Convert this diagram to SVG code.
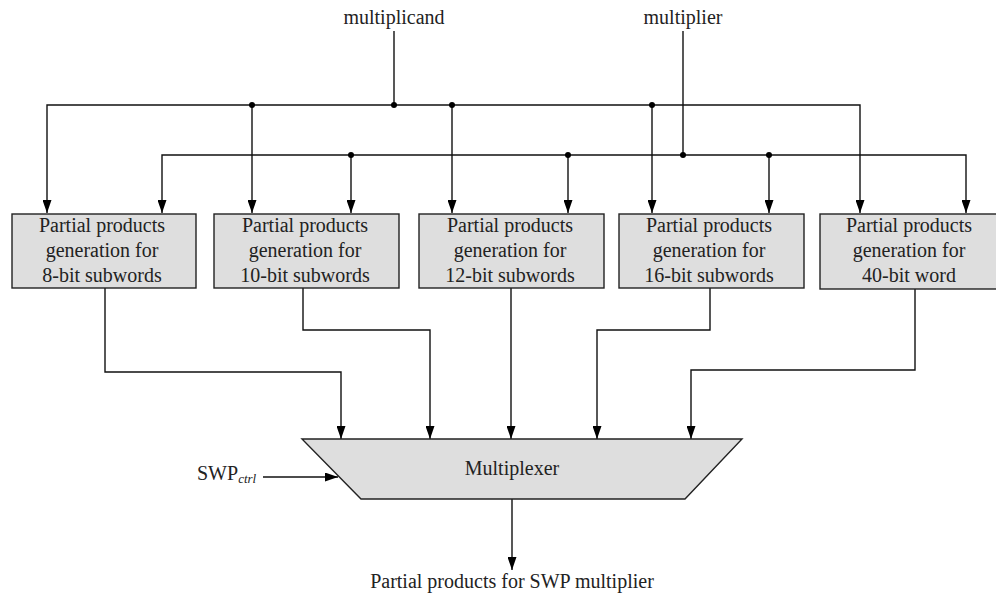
<svg xmlns="http://www.w3.org/2000/svg" width="996" height="594" viewBox="0 0 996 594">
<style>
  .t { font-family: "Liberation Serif", "Times New Roman", serif; font-size: 20px; fill: #222; }
  .c { text-anchor: middle; }
  .box { fill: #dedede; stroke: #222; stroke-width: 1.4; }
  .w { fill: none; stroke: #111; stroke-width: 1.4; }
  .a { marker-end: url(#arr); }
  .dot { fill: #000; }
</style>
<defs>
  <marker id="arr" viewBox="0 0 13 9" refX="13" refY="4.5" markerWidth="13" markerHeight="9" markerUnits="userSpaceOnUse" orient="auto">
    <path d="M0,0 L13,4.5 L0,9 z" fill="#000"/>
  </marker>
</defs>

<text class="t c" x="394" y="24">multiplicand</text>
<text class="t c" x="683" y="24">multiplier</text>

<g id="connectors">
  <path class="w" d="M394,31 V105"/>
  <path class="w a" d="M394,105 H47 V213"/>
  <path class="w a" d="M394,105 H860 V213"/>
  <path class="w a" d="M252,105 V213"/>
  <path class="w a" d="M452,105 V213"/>
  <path class="w a" d="M652,105 V213"/>
  <path class="w" d="M683,31 V155"/>
  <path class="w a" d="M683,155 H162 V213"/>
  <path class="w a" d="M683,155 H966 V213"/>
  <path class="w a" d="M351,155 V213"/>
  <path class="w a" d="M568,155 V213"/>
  <path class="w a" d="M769,155 V213"/>
  <circle class="dot" cx="252" cy="105" r="3"/>
  <circle class="dot" cx="394" cy="105" r="3"/>
  <circle class="dot" cx="452" cy="105" r="3"/>
  <circle class="dot" cx="652" cy="105" r="3"/>
  <circle class="dot" cx="351" cy="155" r="3"/>
  <circle class="dot" cx="568" cy="155" r="3"/>
  <circle class="dot" cx="683" cy="155" r="3"/>
  <circle class="dot" cx="769" cy="155" r="3"/>
  <path class="w a" d="M105,288 V372 H341 V439"/>
  <path class="w a" d="M303,288 V330 H430 V439"/>
  <path class="w a" d="M511,288 V439"/>
  <path class="w a" d="M710,288 V330 H597 V439"/>
  <path class="w a" d="M915,289 V370 H691 V439"/>
  <path class="w a" d="M263,477 H338"/>
  <path class="w a" d="M512,499 V570"/>
</g>

<g id="pp8">
  <rect class="box" x="12" y="214" width="184" height="74"/>
  <text class="t c" x="102" y="232">Partial products</text>
  <text class="t c" x="102" y="257">generation for</text>
  <text class="t c" x="102" y="282">8-bit subwords</text>
</g>
<g id="pp10">
  <rect class="box" x="214" y="214" width="185" height="74"/>
  <text class="t c" x="305" y="232">Partial products</text>
  <text class="t c" x="305" y="257">generation for</text>
  <text class="t c" x="305" y="282">10-bit subwords</text>
</g>
<g id="pp12">
  <rect class="box" x="419" y="214" width="185" height="74"/>
  <text class="t c" x="510" y="232">Partial products</text>
  <text class="t c" x="510" y="257">generation for</text>
  <text class="t c" x="510" y="282">12-bit subwords</text>
</g>
<g id="pp16">
  <rect class="box" x="619" y="214" width="185" height="74"/>
  <text class="t c" x="709" y="232">Partial products</text>
  <text class="t c" x="709" y="257">generation for</text>
  <text class="t c" x="709" y="282">16-bit subwords</text>
</g>
<g id="pp40">
  <rect class="box" x="820" y="214" width="185" height="75"/>
  <text class="t c" x="909" y="232">Partial products</text>
  <text class="t c" x="909" y="257">generation for</text>
  <text class="t c" x="909" y="282">40-bit word</text>
</g>

<g id="mux">
  <polygon class="box" points="302,439 742,439 685,499 361,499"/>
  <text class="t c" x="512" y="475">Multiplexer</text>
</g>

<g id="swp">
  <text class="t" x="197" y="480">SWP<tspan font-style="italic" font-size="13" dy="3">ctrl</tspan></text>
</g>

<text class="t c" x="512" y="588">Partial products for SWP multiplier</text>
</svg>
